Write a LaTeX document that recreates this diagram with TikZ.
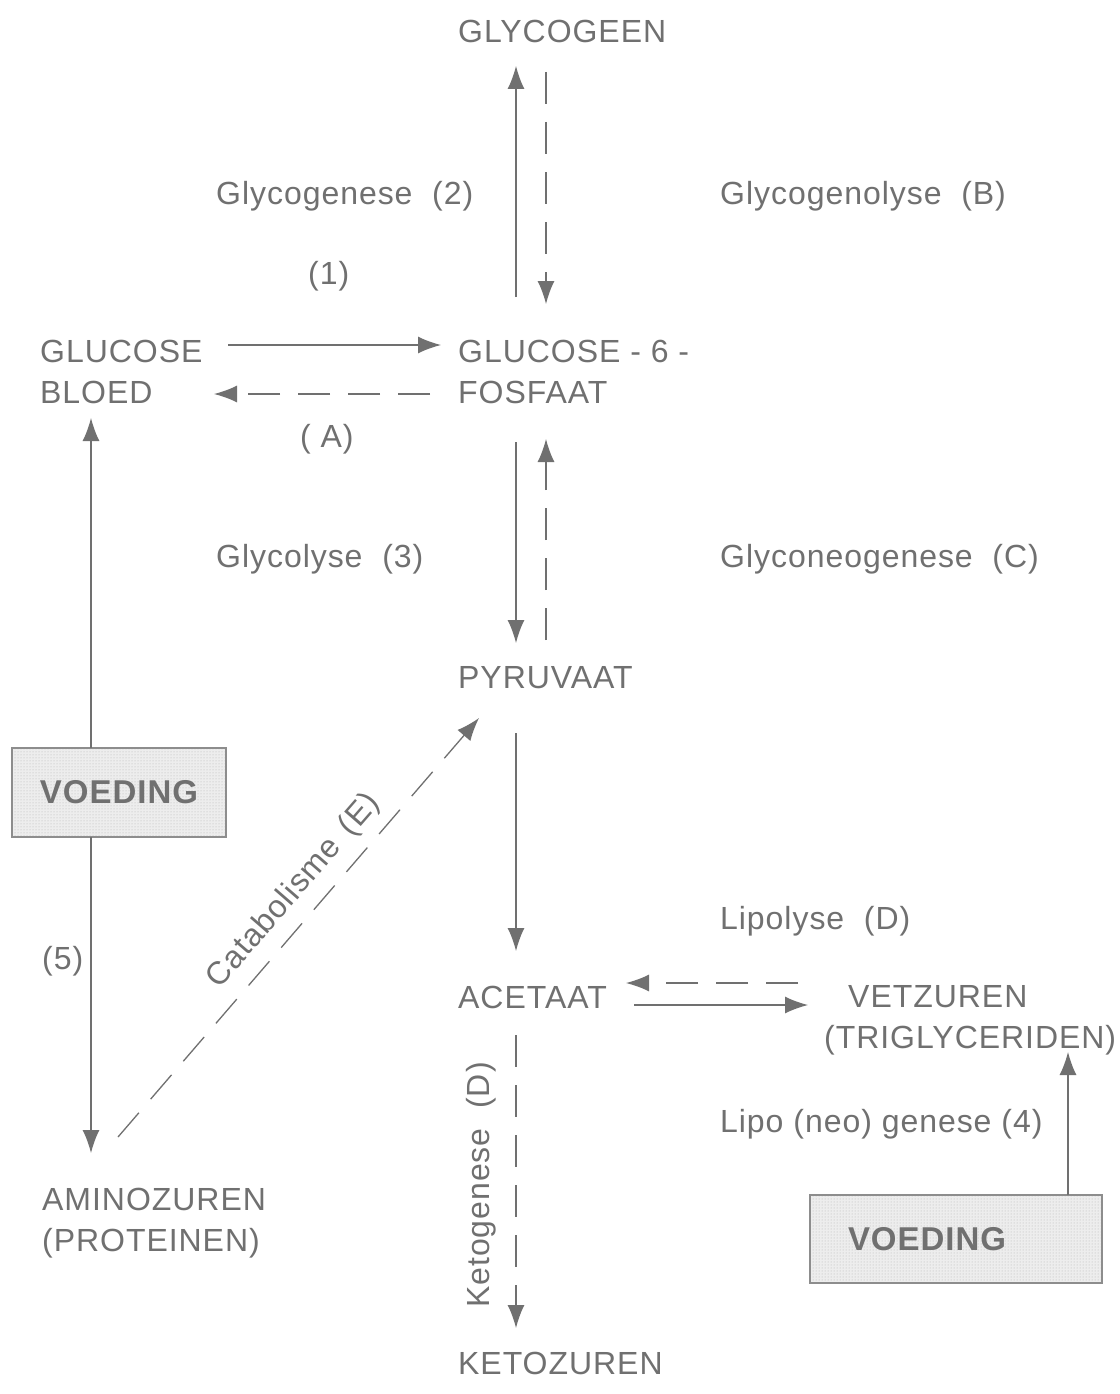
\documentclass[tikz,border=0pt]{standalone}
\usepackage{fontspec}
\setmainfont[LetterSpace=3]{Liberation Sans}
\usetikzlibrary{arrows.meta,patterns}
\definecolor{ink}{HTML}{707070}
\begin{document}
\begin{tikzpicture}[x=1pt,y=-1pt,
  lbl/.style={anchor=base west, inner sep=0pt, text=ink, font=\fontsize{32}{41}\selectfont},
  lbl2/.style={anchor=north west, inner sep=0pt, text=ink, align=left, font=\fontsize{32}{41}\selectfont},
  rlbl/.style={anchor=center, inner sep=0pt, text=ink, font=\fontsize{32}{41}\selectfont},
  foodbox/.style={draw=ink!80, line width=1.2pt, preaction={fill=black!7}, pattern=dots, pattern color=black!30,
    text=ink, font=\fontsize{33}{36}\selectfont\bfseries, inner sep=0pt},
  conn/.style={draw=ink, line width=1.3pt, -{Latex[length=23pt,width=17pt]}},
  dconn/.style={conn, dash pattern=on 32pt off 18pt}]
\useasboundingbox[fill=white] (0,0) rectangle (1119,1394);

% labels
\node[lbl] (glycogeen) at (458,43) {GLYCOGEEN};
\node[lbl] (glycogenese) at (216,204) {Glycogenese\ \ (2)};
\node[lbl] (glycogenolyse) at (720,204) {Glycogenolyse\ \ (B)};
\node[lbl] (one) at (308,284) {(1)};
\node[lbl2] (glcb) at (40,340) {GLUCOSE\\BLOED};
\node[lbl2] (g6p) at (458,340) {GLUCOSE - 6 -\\FOSFAAT};
\node[lbl] (A) at (300,447) {( A)};
\node[lbl] (glycolyse) at (216,567) {Glycolyse\ \ (3)};
\node[lbl] (glyconeo) at (720,567) {Glyconeogenese\ \ (C)};
\node[lbl] (pyr) at (458,688) {PYRUVAAT};
\node[lbl] (lipolyse) at (720,929) {Lipolyse\ \ (D)};
\node[lbl] (acet) at (458,1008) {ACETAAT};
\node[lbl2] (vet) at (824,985) {\hspace*{24pt}VETZUREN\\(TRIGLYCERIDEN)};
\node[lbl] (liponeo) at (720,1132) {Lipo (neo) genese (4)};
\node[lbl] (five) at (42,969) {(5)};
\node[lbl2] (amino) at (42,1188) {AMINOZUREN\\(PROTEINEN)};
\node[lbl] (keto) at (458,1374) {KETOZUREN};
\node[rlbl, rotate=90] (ketogen) at (481,1185) {Ketogenese\ \ (D)};
\node[rlbl, rotate=49] (catab) at (294,891) {Catabolisme\hspace{14pt}(E)};

% boxes
\node[foodbox, minimum width=214pt, minimum height=89pt] (voedL) at (119,792.5) {VOEDING};
\node[foodbox, minimum width=292pt, minimum height=88pt, text width=216pt, align=left] (voedR) at (956,1239) {VOEDING};

% connector end points
\coordinate (glycogeenIn) at (516,66);
\coordinate (glycogeenOut) at (546,72);
\coordinate (g6pTopOut) at (516,297);
\coordinate (g6pTopIn) at (546,304);
\coordinate (glcbOut) at (228,345);
\coordinate (g6pLeftIn) at (441,345);
\coordinate (g6pLeftOut) at (430,394);
\coordinate (glcbIn) at (214,394);
\coordinate (g6pBotOut) at (516,442);
\coordinate (g6pBotIn) at (546,439);
\coordinate (pyrTopIn) at (516,643);
\coordinate (pyrTopOut) at (546,640);
\coordinate (pyrBotOut) at (516,733);
\coordinate (acetTopIn) at (516,951);
\coordinate (acetBotOut) at (516,1035);
\coordinate (ketoIn) at (516,1328);
\coordinate (vetOutL) at (798,983);
\coordinate (acetInR) at (626,983);
\coordinate (acetOutR) at (634,1005);
\coordinate (vetInL) at (808,1005);
\coordinate (voedROut) at (1068,1195);
\coordinate (vetInB) at (1068,1052);
\coordinate (voedLOutUp) at (91,748);
\coordinate (glcbInB) at (91,418);
\coordinate (voedLOutDn) at (91,837);
\coordinate (aminoIn) at (91,1153);
\coordinate (aminoOut) at (118,1137);
\coordinate (pyrInL) at (479,718);

% connectors
\draw[conn] (g6pTopOut) -- (glycogeenIn);
\draw[dconn] (glycogeenOut) -- (g6pTopIn);
\draw[conn] (glcbOut) -- (g6pLeftIn);
\draw[dconn] (g6pLeftOut) -- (glcbIn);
\draw[conn] (g6pBotOut) -- (pyrTopIn);
\draw[dconn] (pyrTopOut) -- (g6pBotIn);
\draw[conn] (pyrBotOut) -- (acetTopIn);
\draw[dconn] (acetBotOut) -- (ketoIn);
\draw[dconn] (vetOutL) -- (acetInR);
\draw[conn] (acetOutR) -- (vetInL);
\draw[conn] (voedROut) -- (vetInB);
\draw[conn] (voedLOutUp) -- (glcbInB);
\draw[conn] (voedLOutDn) -- (aminoIn);
\draw[dconn] (aminoOut) -- (pyrInL);
\end{tikzpicture}
\end{document}
